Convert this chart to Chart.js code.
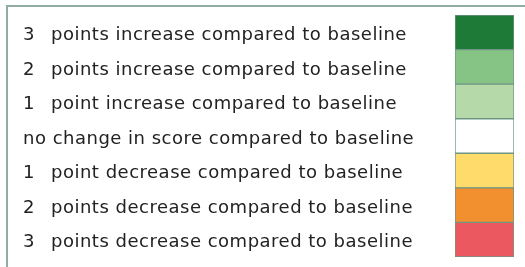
<!DOCTYPE html>
<html>
<head>
<meta charset="utf-8">
<script src="https://cdn.jsdelivr.net/npm/chart.js@4"></script>
<style>
  html, body { margin: 0; padding: 0; background: #fff; }
  #wrap { position: relative; width: 525px; height: 267px; overflow: hidden; }
  #frame { position: absolute; left: 6px; top: 5px; width: 560px; height: 300px;
           border-left: 2px solid #8fada3; border-top: 2px solid #8fada3; }
  canvas { position: absolute; left: 0; top: 0; }
</style>
</head>
<body>
<div id="wrap">
  <div id="frame"></div>
  <canvas id="myChart" width="525" height="267"></canvas>
</div>
<script>
// legend rows, top to bottom
var rowNumbers = ['3', '2', '1', '', '1', '2', '3'];
var rowTexts = [
    'points increase compared to baseline',
    'points increase compared to baseline',
    'point increase compared to baseline',
    'no change in score compared to baseline',
    'point decrease compared to baseline',
    'points decrease compared to baseline',
    'points decrease compared to baseline'
];
var rowValues = [1, 1, 1, 1, 1, 1, 1];
var rowColors = ['#1e7b37', '#86c485', '#b6d9a9', '#ffffff', '#fedb6b', '#f28f2e', '#ec5860'];

var labels = rowTexts.map(function(t, i) { return i; });

// draws the row texts next to each colour cell
var rowLabels = {
    id: 'rowLabels',
    afterDraw: function(chart) {
        var c = chart.ctx;
        var y = chart.scales.y;
        c.save();
        c.fillStyle = '#222222';
        c.font = '18px "DejaVu Sans"';
        c.letterSpacing = '0.5px';
        c.textBaseline = 'middle';
        c.textAlign = 'left';
        for (var i = 0; i < rowTexts.length; i++) {
            var py = y.getPixelForValue(i) + 3;
            if (rowNumbers[i]) {
                c.fillText(rowNumbers[i], 23, py);
                c.fillText(rowTexts[i], 51, py);
            } else {
                c.fillText(rowTexts[i], 23, py);
            }
        }
        c.restore();
    }
};

var ctx = document.getElementById('myChart').getContext('2d');
var chart = new Chart(ctx, {
    type: 'bar',
    data: {
        labels: labels,
        datasets: [{
            data: rowValues,
            backgroundColor: rowColors,
            borderColor: '#6f9585',
            borderWidth: 1,
            borderSkipped: false,
            barPercentage: 1,
            categoryPercentage: 1
        }]
    },
    options: {
        indexAxis: 'y',
        responsive: false,
        animation: false,
        layout: { padding: { left: 455, right: 11, top: 15, bottom: 10 } },
        plugins: { legend: { display: false }, tooltip: { enabled: false } },
        scales: {
            x: { display: false, min: 0, max: 1 },
            y: { display: false }
        }
    },
    plugins: [rowLabels]
});
</script>
</body>
</html>
